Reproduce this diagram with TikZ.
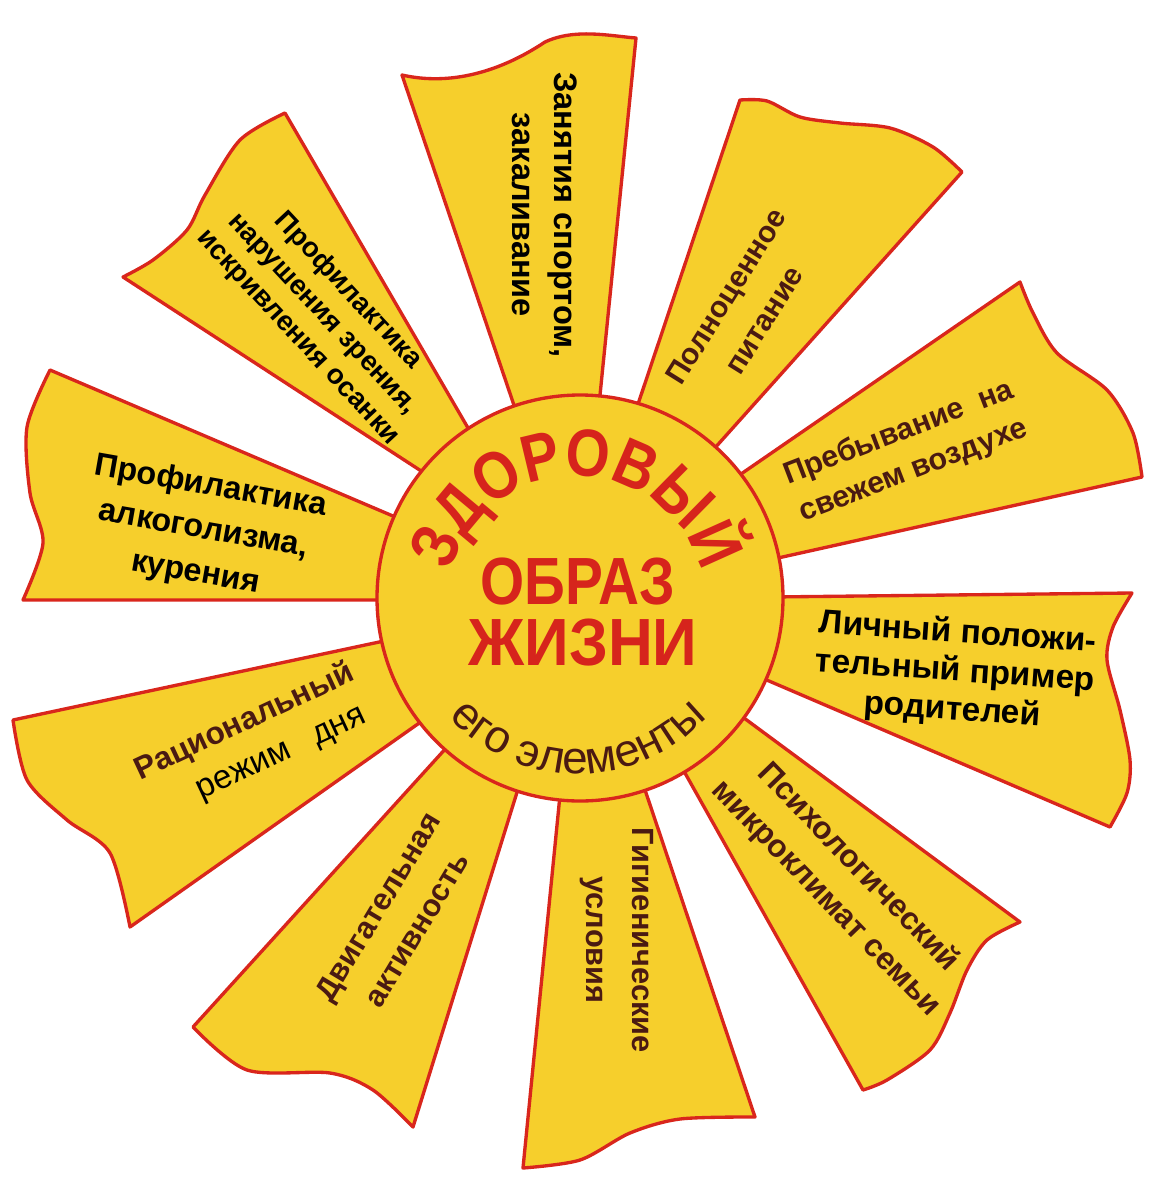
\documentclass[tikz,border=0pt]{standalone}
\usepackage{fontspec}
\usepackage{graphicx}
\usepackage{xcolor}
\setmainfont{Liberation Sans}
\newfontfamily\narrowsans[FakeStretch=0.85]{Liberation Sans}
\usetikzlibrary{decorations.text}
\definecolor{sunyellow}{HTML}{F6CF2C}
\definecolor{rayred}{HTML}{D9261C}
\definecolor{titlered}{HTML}{D6241C}
\definecolor{darkbrown}{HTML}{4A1A12}
\tikzset{
  ray/.style={fill=sunyellow, draw=rayred, line width=1.9pt, line join=round},
  blk/.style={align=center, text=black, inner sep=0pt},
  brn/.style={align=center, text=darkbrown, inner sep=0pt},
}

\begin{document}
\begin{tikzpicture}[x=0.02cm, y=-0.02cm]
  \fill[white] (0,0) rectangle (1160,1197);
  \useasboundingbox (0,0) rectangle (1160,1197);

  % rays, clockwise from the top
  \draw[ray] (580,598) -- (519,420) -- (402,75) .. controls (450,86) and (500,72) .. (545,42)
    .. controls (575,28) and (610,36) .. (636,38) -- (598,415) -- cycle;
  \draw[ray] (580,598) -- (631,425) -- (740,100) -- plot[smooth] coordinates {(740,100) (767,101) (800,117) (840,123) (890,128) (933,147) (962,172)} -- (705,459) -- cycle;
  \draw[ray] (580,598) -- (725,485) -- (1020,282) -- plot[smooth] coordinates {(1020,282) (1033,313) (1057,353) (1107,390) (1133,433) (1142,477)} -- (760,562) -- cycle;
  \draw[ray] (580,598) -- (770,597) -- (1132,593) -- plot[smooth] coordinates {(1132,593) (1113,627) (1107,660) (1120,710) (1130,760) (1127,793) (1110,827)} -- (755,675) -- cycle;
  \draw[ray] (580,598) -- (721,701) -- (1020,922) -- plot[smooth] coordinates {(1020,922) (987,940) (967,970) (950,1013) (930,1050) (887,1080) (863,1090)} -- (676,757) -- cycle;
  \draw[ray] (580,598) -- (640,775) -- (755,1117) -- plot[smooth] coordinates {(755,1117) (680,1119) (630,1133) (580,1160) (523,1168)} -- (561,785) -- cycle;
  \draw[ray] (580,598) -- (523,773) -- (413,1127) -- plot[smooth] coordinates {(413,1127) (373,1090) (330,1073) (247,1070) (193,1027)} -- (457,736) -- cycle;
  \draw[ray] (580,598) -- (432,714) -- (130,927) -- plot[smooth] coordinates {(130,927) (110,853) (67,820) (27,780) (13,720)} -- (398,638) -- cycle;
  \draw[ray] (580,598) -- (392,600) -- (23,600) -- plot[smooth] coordinates {(23,600) (43,543) (30,493) (27,427) (50,370)} -- (407,522) -- cycle;
  \draw[ray] (580,598) -- (435,480) -- (123,277) -- plot[smooth] coordinates {(123,277) (153,260) (187,230) (205,195) (240,140) (285,113)} -- (475,440) -- cycle;

  % centre
  \draw[ray] (580,598) circle[radius=203];

  \path[decorate, decoration={text along path, text color=titlered,
    text={|\narrowsans\fontsize{38}{38}\selectfont\bfseries|ЗДОРОВЫЙ}, text align=center}]
    (576,606) ++(180:130) arc[start angle=180, end angle=360, radius=130];
  \node[text=titlered, font=\fontsize{38}{38}\selectfont\bfseries] (Obraz) at (578,582) {\scalebox{0.85}[1]{ОБРАЗ}};
  \node[text=titlered, font=\fontsize{38}{38}\selectfont\bfseries] (Zhizni) at (583,643) {\scalebox{0.93}[1]{ЖИЗНИ}};
  \path[decorate, decoration={text along path, text color=darkbrown,
    text={|\fontsize{26}{26}\selectfont|его элементы}, text align=center}]
    (578,598) ++(160:176) arc[start angle=160, end angle=20, radius=176];

  % ray labels
  \node[blk, rotate=-90, font=\fontsize{18.5}{24}\selectfont\bfseries] (Sport) at (545,215) {Занятия спортом,\\закаливание};
  \node[brn, rotate=58, font=\fontsize{17}{25.5}\selectfont\bfseries] (Food) at (745,308) {Полноценное\\питание};
  \node[brn, rotate=21, font=\fontsize{17.3}{23}\selectfont\bfseries] (Air) at (906,452) {Пребывание\ \ на\\свежем воздухе};
  \node[blk, rotate=-4, font=\fontsize{19}{22}\selectfont\bfseries] (Parents) at (955,672) {Личный положи-\\тельный пример\\родителей};
  \node[brn, rotate=-46, font=\fontsize{18}{25.5}\selectfont\bfseries] (Psy) at (842,883) {Психологический\\микроклимат семьи};
  \node[brn, rotate=-90, font=\fontsize{17.5}{26.5}\selectfont\bfseries] (Hyg) at (617,940) {Гигиенические\\условия};
  \node[brn, rotate=59, font=\fontsize{17.5}{25.5}\selectfont\bfseries] (Move) at (397,918) {Двигательная\\активность};
  \node[brn, rotate=25, font=\fontsize{18}{24.7}\selectfont\bfseries] (Day) at (254,742) {Рациональный\\{\mdseries\color{black}\fontsize{19}{24.7}\selectfont\hspace{1.2em}режим\hspace{0.8em}дня}};
  \node[blk, rotate=-10, font=\fontsize{18.4}{25}\selectfont\bfseries] (Alc) at (203,530) {Профилактика\\алкоголизма,\\курения};
  \node[blk, rotate=-47, font=\fontsize{15.8}{19.5}\selectfont\bfseries] (Sight) at (323,314) {Профилактика\\нарушения зрения,\\искривления осанки};
\end{tikzpicture}
\end{document}
